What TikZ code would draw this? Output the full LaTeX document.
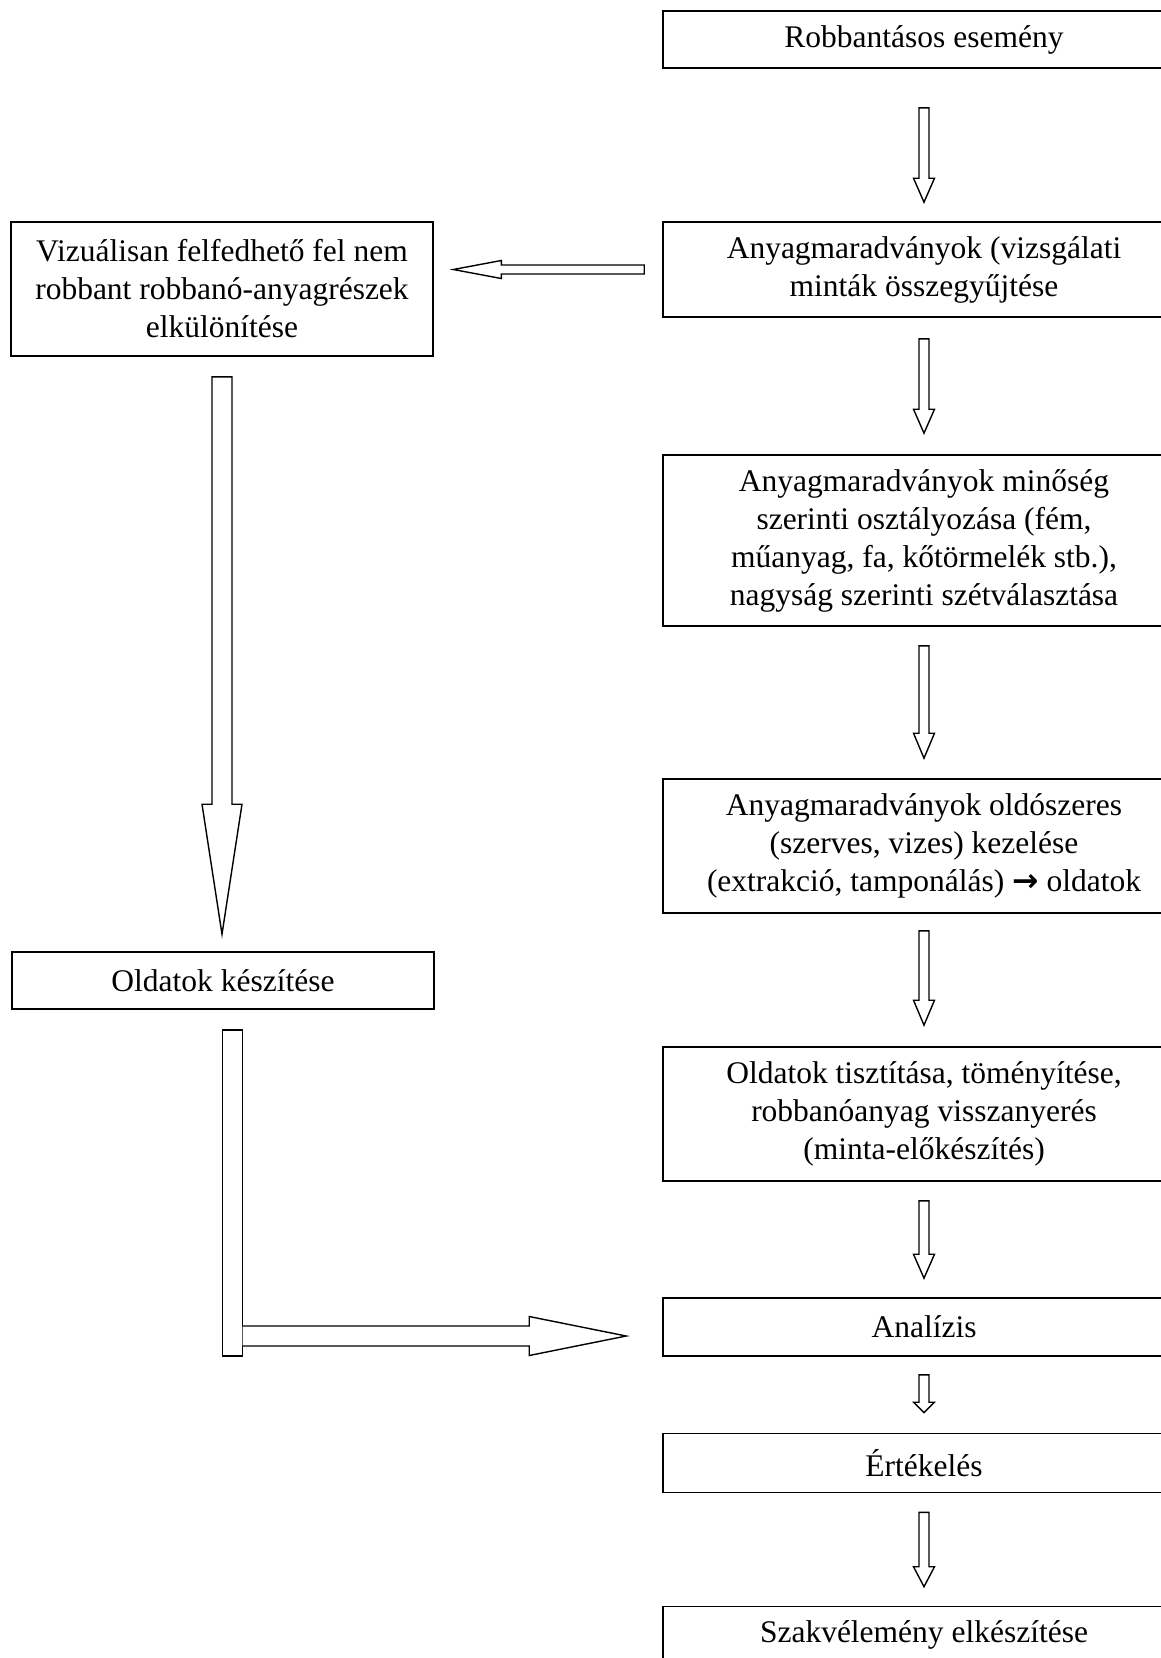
\documentclass[tikz,border=0pt]{standalone}
\usepackage{fontspec}
\setmainfont{Liberation Serif}
\newfontfamily\arrowfont{DejaVu Sans}
\usetikzlibrary{calc}

\newcommand{\stagefont}{\fontsize{31.5}{38}\selectfont}

% hollow block arrow pointing down, from node #1 to node #2
% #3 gap below #1, #4 gap above #2, #5 head length
\newcommand{\downblk}[5]{%
  \draw[blk] let \p1=($(#1.south)+(0,#3)$), \p2=($(#2.north)+(0,-#4)$) in
    (\x1-5pt,\y1) -- (\x1+5pt,\y1) -- (\x1+5pt,\y2+#5pt) -- (\x1+10.5pt,\y2+#5pt)
    -- (\x1,\y2) -- (\x1-10.5pt,\y2+#5pt) -- (\x1-5pt,\y2+#5pt) -- cycle;}

\tikzset{
  stage/.style={draw, line width=1.6pt, minimum width=522pt, align=center,
    inner sep=0pt, font=\stagefont},
  sidebox/.style={stage, minimum width=422pt},
  blk/.style={draw, line width=1.4pt, fill=white, line join=miter},
}

\begin{document}
\begin{tikzpicture}[x=1pt, y=-1pt]
        \useasboundingbox (0,0) rectangle (1161,1658);
        \clip (0,0) rectangle (1161,1658);

        % Main column
        \node[stage, minimum height=57pt] (ev) at (924,39.5) {Robbantásos esemény};
        \node[stage, minimum height=95pt] (samp) at (924,269.5)
            {Anyagmaradványok (vizsgálati\\minták összegyűjtése};
        \node[stage, minimum height=171pt] (cls) at (924,540.5)
            {Anyagmaradványok minőség\\szerinti osztályozása (fém,\\műanyag, fa, kőtörmelék stb.),\\nagyság szerinti szétválasztása};
        \node[stage, minimum height=134pt] (solv) at (924,846)
            {Anyagmaradványok oldószeres\\(szerves, vizes) kezelése\\(extrakció, tamponálás) {\arrowfont\bfseries →} oldatok};
        \node[stage, minimum height=134pt] (pur) at (924,1114)
            {Oldatok tisztítása, töményítése,\\robbanóanyag visszanyerés\\(minta-előkészítés)};
        \node[stage, minimum height=58pt] (ana) at (924,1327) {Analízis};
        \node[stage, minimum height=59pt] (ert) at (924,1463) {Értékelés};
        \node[stage, minimum height=57pt] (szak) at (924,1635) {Szakvélemény elkészítése};

        % Side column
        \node[sidebox, minimum height=134pt] (vis) at (222,289)
            {Vizuálisan felfedhető fel nem\\robbant robbanó-anyagrészek\\elkülönítése};
        \node[sidebox, minimum height=57pt] (prep) at (223,980.5) {Oldatok készítése};

        % Arrows of the main column
        \downblk{ev}{samp}{39}{19}{24}
        \downblk{samp}{cls}{21}{21}{24}
        \downblk{cls}{solv}{19}{20}{25}
        \downblk{solv}{pur}{17}{21}{25}
        \downblk{pur}{ana}{19}{19}{24}
        \downblk{ana}{ert}{18}{20}{10.5}
        \downblk{ert}{szak}{19}{19}{20}

        % Arrow to the side column
        \draw[blk] let \p1=($(samp.west)+(-18,0)$), \p2=($(vis.east)+(19.5,0)$) in
            (\x1,\y1-4.5pt) -- (\x1,\y1+4.5pt) -- (\x2+48pt,\y1+4.5pt) -- (\x2+48pt,\y1+9pt)
            -- (\x2,\y1) -- (\x2+48pt,\y1-9pt) -- (\x2+48pt,\y1-4.5pt) -- cycle;

        % Long arrow down the side column
        \draw[blk] let \p1=($(vis.south)+(0,20)$), \p2=($(prep.north)+(0,-17)$) in
            (\x1-10pt,\y1) -- (\x1+10pt,\y1) -- (\x1+10pt,\y2+130pt) -- (\x1+20pt,\y2+130pt)
            -- (\x1,\y2) -- (\x1-20pt,\y2+130pt) -- (\x1-10pt,\y2+130pt) -- cycle;

        % Bent arrow to the analysis
        \draw[blk] let \p1=($(prep.south)+(9.5,20)$), \p2=($(ana.west)+(-36,9)$) in
            (\x1-10pt,\y1) rectangle (\x1+10pt,\y2-20pt);
        \draw[blk] let \p1=($(prep.south)+(9.5,20)$), \p2=($(ana.west)+(-36,9)$) in
            (\x1+10pt,\y2+10pt) -- (\x2-97pt,\y2+10pt) -- (\x2-97pt,\y2+19.5pt)
            -- (\x2,\y2) -- (\x2-97pt,\y2-19.5pt) -- (\x2-97pt,\y2-10pt) -- (\x1+10pt,\y2-10pt);

\end{tikzpicture}
\end{document}
